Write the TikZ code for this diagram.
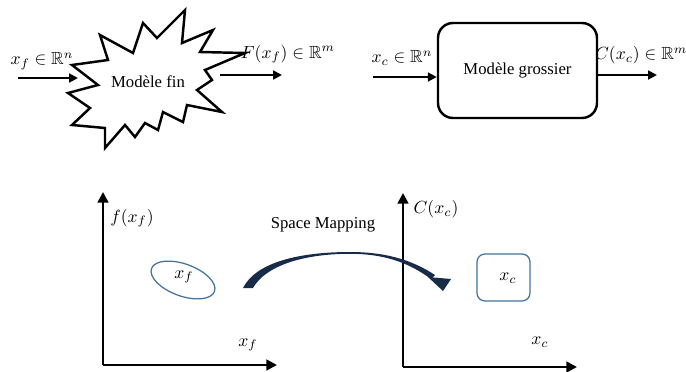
\documentclass[tikz,border=0pt]{standalone}
\usepackage{amssymb}
\usepackage{amsmath}
\usepackage{fontspec}
\setmainfont{Liberation Serif}
\usepackage{xcolor}
\usepackage{tikz}
\usetikzlibrary{shapes.geometric, arrows.meta, positioning, calc}
\definecolor{regionblue}{RGB}{65,113,156}
\definecolor{mapnavy}{RGB}{24,44,74}
\tikzset{
    model/.style={rectangle, draw, rounded corners=0.3cm, line width=1.4pt, minimum width=3.18cm, minimum height=1.9cm, font=\fontsize{9.5}{11}\selectfont},
    burst/.style={draw, line width=1.4pt, line join=miter},
    line/.style={draw, -{Triangle[length=5pt, width=5pt]}, line width=1.1pt},
    axis/.style={draw, -{Triangle[length=6pt, width=6pt]}, line width=1.5pt},
    region/.style={draw=regionblue, line width=0.7pt, inner sep=0pt},
    mathLabel/.style={inner sep=1pt, font=\fontsize{10}{12}\selectfont},
    textLabel/.style={inner sep=1pt, font=\fontsize{9.5}{11}\selectfont}
}

\begin{document}
\begin{tikzpicture}[x=0.2mm, y=-0.2mm]
    \useasboundingbox (0,0) rectangle (686,371);

    % Fine model
    \draw [burst] (245,53) -- (200,52) -- (213,30) -- (182,43) -- (185,10) -- (157,38)
        -- (143,23) -- (133,53) -- (100,35) -- (108,60) -- (72,65) -- (98,85)
        -- (68,93) -- (90,108) -- (72,125) -- (105,128) -- (105,148) -- (125,125)
        -- (135,137) -- (145,123) -- (158,130) -- (163,112) -- (183,122) -- (187,105)
        -- (222,112) -- (197,90) -- (212,80) -- (205,70) -- cycle;
    \node [textLabel] (fin) at (148,82) {Modèle fin};
    \coordinate (finIn) at (18,78);
    \coordinate (finWest) at (78,78);
    \coordinate (finEast) at (220,75);
    \coordinate (finOut) at (282,75);
    \node [mathLabel] (xfIn) at (42,61) {$x_f \in \mathbb{R}^n$};
    \node [mathLabel] (Fout) at (288,54) {$F(x_f) \in \mathbb{R}^m$};

    % Coarse model
    \node [model] (grossier) at (517.5,70.5) {Modèle grossier};
    \coordinate (grosIn) at (373,77);
    \coordinate (grosOut) at (657,75);
    \node [mathLabel] (xcIn) at (402,58) {$x_c \in \mathbb{R}^n$};
    \node [mathLabel, anchor=west] (Cout) at (593,55) {$C(x_c) \in \mathbb{R}^m$};

    % Paths
    \path [line] (finIn) -- (finWest);
    \path [line] (finEast) -- (finOut);
    \path [line] (grosIn) -- (grossier.west |- grosIn);
    \path [line] (grossier.east |- grosOut) -- (grosOut);

    % Axes
    \coordinate (o1) at (103,365);
    \coordinate (y1) at (103,192);
    \coordinate (x1) at (277,365);
    \coordinate (o2) at (403,367);
    \coordinate (y2) at (403,193);
    \coordinate (x2) at (577,367);
    \draw [axis] (o1) -- (y1);
    \draw [axis] (o1) -- (x1);
    \draw [axis] (o2) -- (y2);
    \draw [axis] (o2) -- (x2);
    \node [mathLabel] (fAxis) at (132,218) {$f(x_f)$};
    \node [mathLabel] (xfAxis) at (248,345) {$x_f$};
    \node [mathLabel] (CAxis) at (436,209) {$C(x_c)$};
    \node [mathLabel] (xcAxis) at (540,342) {$x_c$};

    % Regions
    \node [region, ellipse, rotate=-20, minimum width=1.34cm, minimum height=0.64cm] (fineRegion) at (183,280) {};
    \node [mathLabel] (xfRegion) at (184,277) {$x_f$};
    \node [region, rectangle, rounded corners=0.16cm, minimum width=1.06cm, minimum height=0.94cm] (coarseRegion) at (503.5,277.5) {};
    \node [mathLabel] (xcRegion) at (508,278) {$x_c$};

    % Space mapping
    \node [textLabel] (sm) at (323,225) {Space Mapping};
    \fill [mapnavy] (243,288) .. controls (256,262) and (300,252) .. (350,252)
        .. controls (390,252) and (415,262) .. (435,275)
        -- (431,279) .. controls (413,266) and (390,253.8) .. (350,253.8)
        .. controls (305,253.8) and (266,265) .. (253,288) -- cycle;
    \fill [mapnavy] (428,277) -- (451,279) -- (443,291) -- cycle;
\end{tikzpicture}
\end{document}
